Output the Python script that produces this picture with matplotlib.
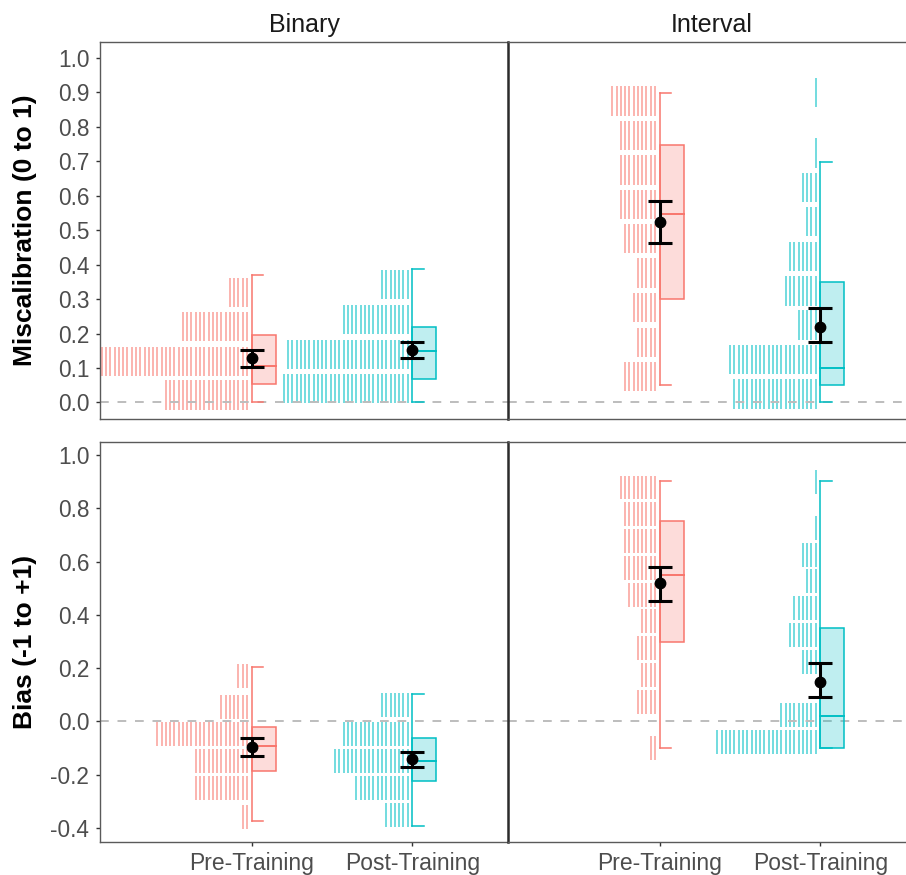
import matplotlib
matplotlib.use("Agg")
import matplotlib.pyplot as plt
from matplotlib.patches import Rectangle
import numpy as np

plt.rcParams['font.family'] = ['Liberation Sans', 'DejaVu Sans']

# ---------------- data ----------------
groups = ["Pre-Training", "Post-Training"]
formats = ["Binary", "Interval"]
measures = ["Miscalibration (0 to 1)", "Bias (-1 to +1)"]

# histogram bins: centres and number of respondents (one stripe each)
mis_bin_pre_bins = [0.022, 0.12, 0.22, 0.32]
mis_bin_pre_counts = [20, 35, 16, 5]
mis_bin_post_bins = [0.04, 0.14, 0.24, 0.343]
mis_bin_post_counts = [30, 29, 16, 7]

mis_int_pre_bins = [0.075, 0.175, 0.276, 0.376, 0.476, 0.575, 0.675, 0.775, 0.875]
mis_int_pre_counts = [8, 5, 6, 5, 8, 9, 9, 9, 11]
mis_int_post_bins = [0.025, 0.125, 0.225, 0.324, 0.424, 0.525, 0.624, 0.724, 0.90]
mis_int_post_counts = [20, 21, 5, 8, 7, 3, 4, 1, 1]

bias_bin_pre_bins = [-0.36, -0.25, -0.15, -0.048, 0.055, 0.169]
bias_bin_pre_counts = [2, 13, 13, 22, 7, 3]
bias_bin_post_bins = [-0.35, -0.25, -0.148, -0.047, 0.062]
bias_bin_post_counts = [6, 13, 18, 16, 7]

bias_int_pre_bins = [-0.10, 0.073, 0.175, 0.276, 0.376, 0.476, 0.577, 0.678, 0.778, 0.878]
bias_int_pre_counts = [2, 5, 4, 5, 4, 7, 8, 8, 8, 9]
bias_int_post_bins = [-0.077, 0.024, 0.224, 0.325, 0.426, 0.526, 0.626, 0.726, 0.90]
bias_int_post_counts = [24, 9, 4, 7, 6, 3, 4, 1, 1]

# box stats: [lower whisker, Q1, median, Q3, upper whisker]
mis_bin_pre_box = [0.0, 0.054, 0.106, 0.196, 0.37]
mis_bin_post_box = [0.0, 0.067, 0.149, 0.22, 0.387]
mis_int_pre_box = [0.051, 0.30, 0.547, 0.748, 0.897]
mis_int_post_box = [0.0, 0.051, 0.099, 0.349, 0.699]
bias_bin_pre_box = [-0.373, -0.185, -0.091, -0.02, 0.205]
bias_bin_post_box = [-0.391, -0.223, -0.149, -0.061, 0.103]
bias_int_pre_box = [-0.101, 0.299, 0.55, 0.752, 0.902]
bias_int_post_box = [-0.101, -0.101, 0.021, 0.349, 0.902]

# mean with confidence interval: [mean, lower, upper]
mis_bin_pre_mean = [0.128, 0.104, 0.152]
mis_bin_post_mean = [0.152, 0.128, 0.176]
mis_int_pre_mean = [0.523, 0.462, 0.585]
mis_int_post_mean = [0.22, 0.175, 0.273]
bias_bin_pre_mean = [-0.097, -0.129, -0.064]
bias_bin_post_mean = [-0.141, -0.17, -0.114]
bias_int_pre_mean = [0.521, 0.452, 0.581]
bias_int_post_mean = [0.149, 0.09, 0.218]

top_ticks = [0.0, 0.1, 0.2, 0.3, 0.4, 0.5, 0.6, 0.7, 0.8, 0.9, 1.0]
bottom_ticks = [-0.4, -0.2, 0.0, 0.2, 0.4, 0.6, 0.8, 1.0]

table = {
    (0, 0): [(mis_bin_pre_bins, mis_bin_pre_counts, mis_bin_pre_box, mis_bin_pre_mean),
             (mis_bin_post_bins, mis_bin_post_counts, mis_bin_post_box, mis_bin_post_mean)],
    (0, 1): [(mis_int_pre_bins, mis_int_pre_counts, mis_int_pre_box, mis_int_pre_mean),
             (mis_int_post_bins, mis_int_post_counts, mis_int_post_box, mis_int_post_mean)],
    (1, 0): [(bias_bin_pre_bins, bias_bin_pre_counts, bias_bin_pre_box, bias_bin_pre_mean),
             (bias_bin_post_bins, bias_bin_post_counts, bias_bin_post_box, bias_bin_post_mean)],
    (1, 1): [(bias_int_pre_bins, bias_int_pre_counts, bias_int_pre_box, bias_int_pre_mean),
             (bias_int_post_bins, bias_int_post_counts, bias_int_post_box, bias_int_post_mean)],
}

# ---------------- style ----------------
W, H = 906, 875
fig = plt.figure(figsize=(W / 100, H / 100), dpi=100)

line_cols = ["#F8766D", "#00BFC4"]
stripe_alpha = 0.62
box_alpha = 0.25

px_per_unit = 160.6
x_lo = 1 - (251.7 - 100) / px_per_unit
panel_w_px = 408
x_hi = x_lo + panel_w_px / px_per_unit
stripe_gap = 4.27 / px_per_unit
stripe_off = 4.7 / px_per_unit
box_w = 24 / px_per_unit
cap_len = 11.7 / px_per_unit

rows = [dict(top=42, bot=419, ylim=(-0.0479, 1.0465), ticks=top_ticks, bar_h=0.085),
        dict(top=441.5, bot=842, ylim=(-0.4527, 1.0507), ticks=bottom_ticks, bar_h=0.09)]
col_left = [100, 508]

for r, row in enumerate(rows):
    for c in range(2):
        ax = fig.add_axes([col_left[c] / W, 1 - row['bot'] / H,
                           panel_w_px / W, (row['bot'] - row['top']) / H])
        ax.set_xlim(x_lo, x_hi)
        ax.set_ylim(*row['ylim'])
        ax.axhline(0, color="#BDBDBD", lw=1.4, ls=(0, (4.5, 4.5)), zorder=1.5)
        for g, (bins, counts, box, mean) in enumerate(table[(r, c)]):
            pos = g + 1
            col = line_cols[g]
            # stripes histogram
            for yc, n in zip(bins, counts):
                xs = pos - stripe_off - stripe_gap * np.arange(n)
                ax.vlines(xs, yc - row['bar_h'] / 2, yc + row['bar_h'] / 2,
                          colors=col, alpha=stripe_alpha, linewidth=1.25, zorder=1)
            wlo, q1, med, q3, whi = box
            # whisker
            ax.plot([pos, pos], [wlo, whi], color=col, lw=1.1, zorder=2)
            ax.plot([pos, pos + cap_len], [wlo, wlo], color=col, lw=1.1, zorder=2)
            ax.plot([pos, pos + cap_len], [whi, whi], color=col, lw=1.1, zorder=2)
            # half box
            ax.add_patch(Rectangle((pos, q1), box_w, q3 - q1, facecolor=col,
                                   alpha=box_alpha, edgecolor='none', zorder=2.5))
            ax.add_patch(Rectangle((pos, q1), box_w, q3 - q1, facecolor='none',
                                   edgecolor=col, lw=1.1, zorder=2.6))
            ax.plot([pos, pos + box_w], [med, med], color=col, lw=1.4, zorder=2.7)
            # mean and CI
            ax.errorbar([pos], [mean[0]], yerr=[[mean[0] - mean[1]], [mean[2] - mean[0]]],
                        fmt='o', color='black', ms=7.5, elinewidth=2.2, capsize=8.5,
                        capthick=2.2, zorder=5)
        # spines
        for s in ['top', 'bottom', 'left', 'right']:
            ax.spines[s].set_color('#5A5A5A')
            ax.spines[s].set_linewidth(1.0)
        if c == 0:
            ax.spines['right'].set_visible(False)
            ax.set_yticks(row['ticks'])
            ax.set_yticklabels([f"{t:.1f}" for t in row['ticks']])
            ax.tick_params(axis='y', length=3.2, width=1.0, color='#333333',
                           labelsize=16.3, labelcolor='#4D4D4D', pad=4.5)
        else:
            ax.spines['left'].set_color('#2B2B2B')
            ax.spines['left'].set_linewidth(1.8)
            ax.set_yticks([])
        if r == 1:
            ax.set_xticks([1, 2])
            ax.set_xticklabels(groups)
            ax.tick_params(axis='x', length=3.2, width=1.0, color='#333333',
                           labelsize=16.5, labelcolor='#4D4D4D', pad=4)
        else:
            ax.set_xticks([])
        if r == 0:
            fig.text((col_left[c] + panel_w_px / 2) / W, 1 - 32 / H, formats[c],
                     ha='center', va='baseline', fontsize=18, color='#1A1A1A')
    fig.text(25 / W, 1 - ((row['top'] + row['bot']) / 2) / H, measures[r],
             rotation=90, ha='center', va='center', fontsize=19,
             fontweight='bold', color='black')

fig.savefig("out.png", dpi=100)
